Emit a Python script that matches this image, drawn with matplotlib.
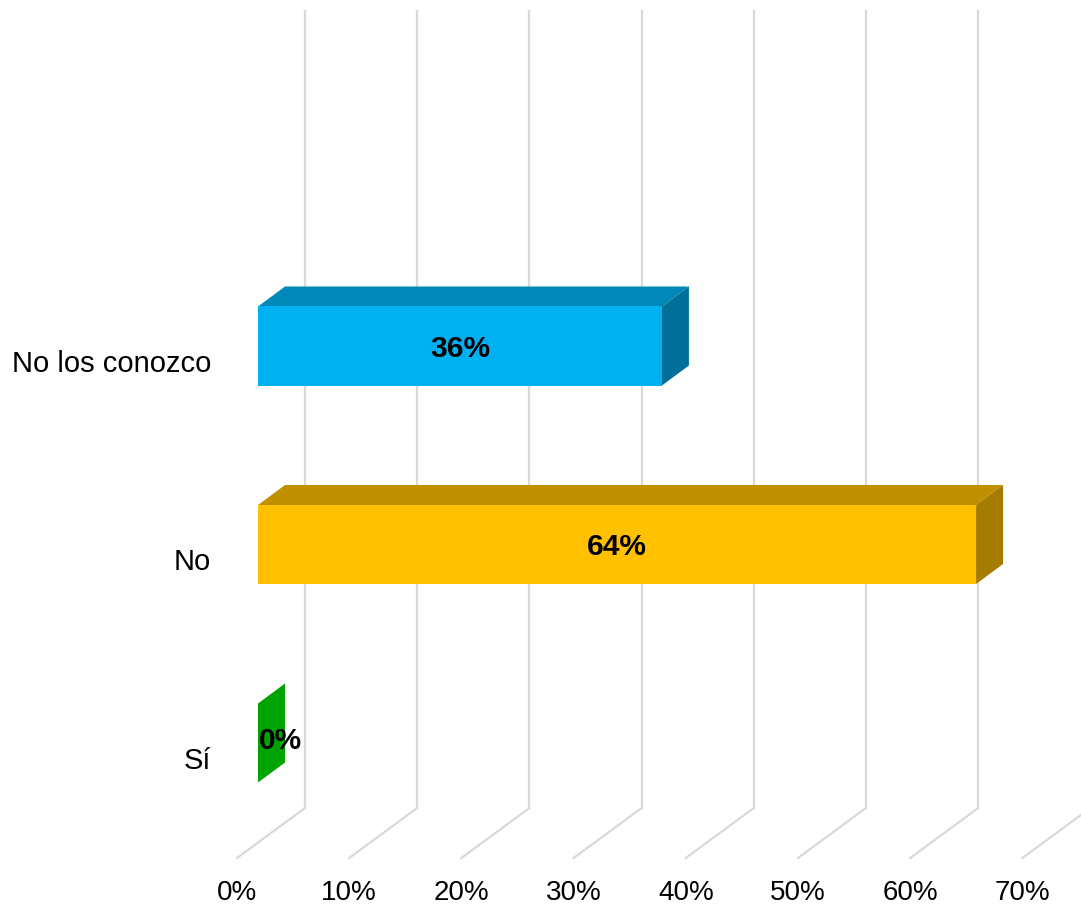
import matplotlib
matplotlib.use("Agg")
import matplotlib.pyplot as plt
from matplotlib.patches import Polygon

# -------------------------
# Data
# -------------------------
categories = ["Sí", "No", "No los conozco"]
values = [0, 64, 36]
labels = ["0%", "64%", "36%"]
front_colors = ["#00A300", "#FFC000", "#00B0F0"]
top_colors = ["#008A00", "#C09000", "#0088B8"]
side_colors = ["#00A300", "#A67C00", "#00709A"]
ticks = [0, 10, 20, 30, 40, 50, 60, 70]

plt.rcParams['font.family'] = ['Liberation Sans', 'DejaVu Sans']

# pixel scale of the chart (percent -> px, category -> px)
PX_X = 11.22
PX_Y = 198.5

def off(dx, dy):
    # pixel offset -> data offset (pixel y goes down)
    return dx / PX_X, -dy / PX_Y

bar_dx, bar_dy = off(27, -20)     # depth of a bar
wall_dx, wall_dy = off(47, -35)   # back wall
floor_dx, floor_dy = off(-21, 15) # front edge of floor
half_h = 39.5 / PX_Y
floor_y = -100 / PX_Y
wall_top = 733 / PX_Y

fig = plt.figure(figsize=(10.81, 9.07), dpi=100)
ax = fig.add_axes([0, 0, 1, 1])
ax.set_xlim(-258 / PX_X, (1081 - 258) / PX_X)
ax.set_ylim(-164 / PX_Y, 743 / PX_Y)
ax.axis("off")

# -------------------------
# Gridlines (back wall + floor)
# -------------------------
grid_c = "#D9D9D9"
for t in ticks:
    ax.plot([t + wall_dx, t + wall_dx], [floor_y + wall_dy, wall_top],
            color=grid_c, lw=1.6, zorder=1, solid_capstyle="butt")
    ax.plot([t + floor_dx, t + wall_dx], [floor_y + floor_dy, floor_y + wall_dy],
            color=grid_c, lw=1.6, zorder=1)
    ax.text(t + floor_dx, -150 / PX_Y, f"{t}%", ha="center", va="center",
            fontsize=20, color="black")

# -------------------------
# 3D bars
# -------------------------
for i, (cat, v) in enumerate(zip(categories, values)):
    y0, y1 = i - half_h, i + half_h
    # top face
    ax.add_patch(Polygon([(0, y1), (v, y1), (v + bar_dx, y1 + bar_dy), (bar_dx, y1 + bar_dy)],
                         closed=True, facecolor=top_colors[i], edgecolor="none", zorder=2))
    # side face
    ax.add_patch(Polygon([(v, y0), (v, y1), (v + bar_dx, y1 + bar_dy), (v + bar_dx, y0 + bar_dy)],
                         closed=True, facecolor=side_colors[i], edgecolor="none", zorder=2))
    # front face
    if v > 0:
        ax.barh(i, v, height=2 * half_h, color=front_colors[i], zorder=3)
        ax.text(v / 2, i - 0.015, labels[i], ha="center", va="center",
                fontsize=21.5, fontweight="bold", zorder=4)
    else:
        ax.text(0.1, i + 0.01, labels[i], ha="left", va="center",
                fontsize=21.5, fontweight="bold", zorder=4)
    ax.text(-47 / PX_X, i - 0.09, cat, ha="right", va="center", fontsize=21)

plt.savefig("out.png", dpi=100)
